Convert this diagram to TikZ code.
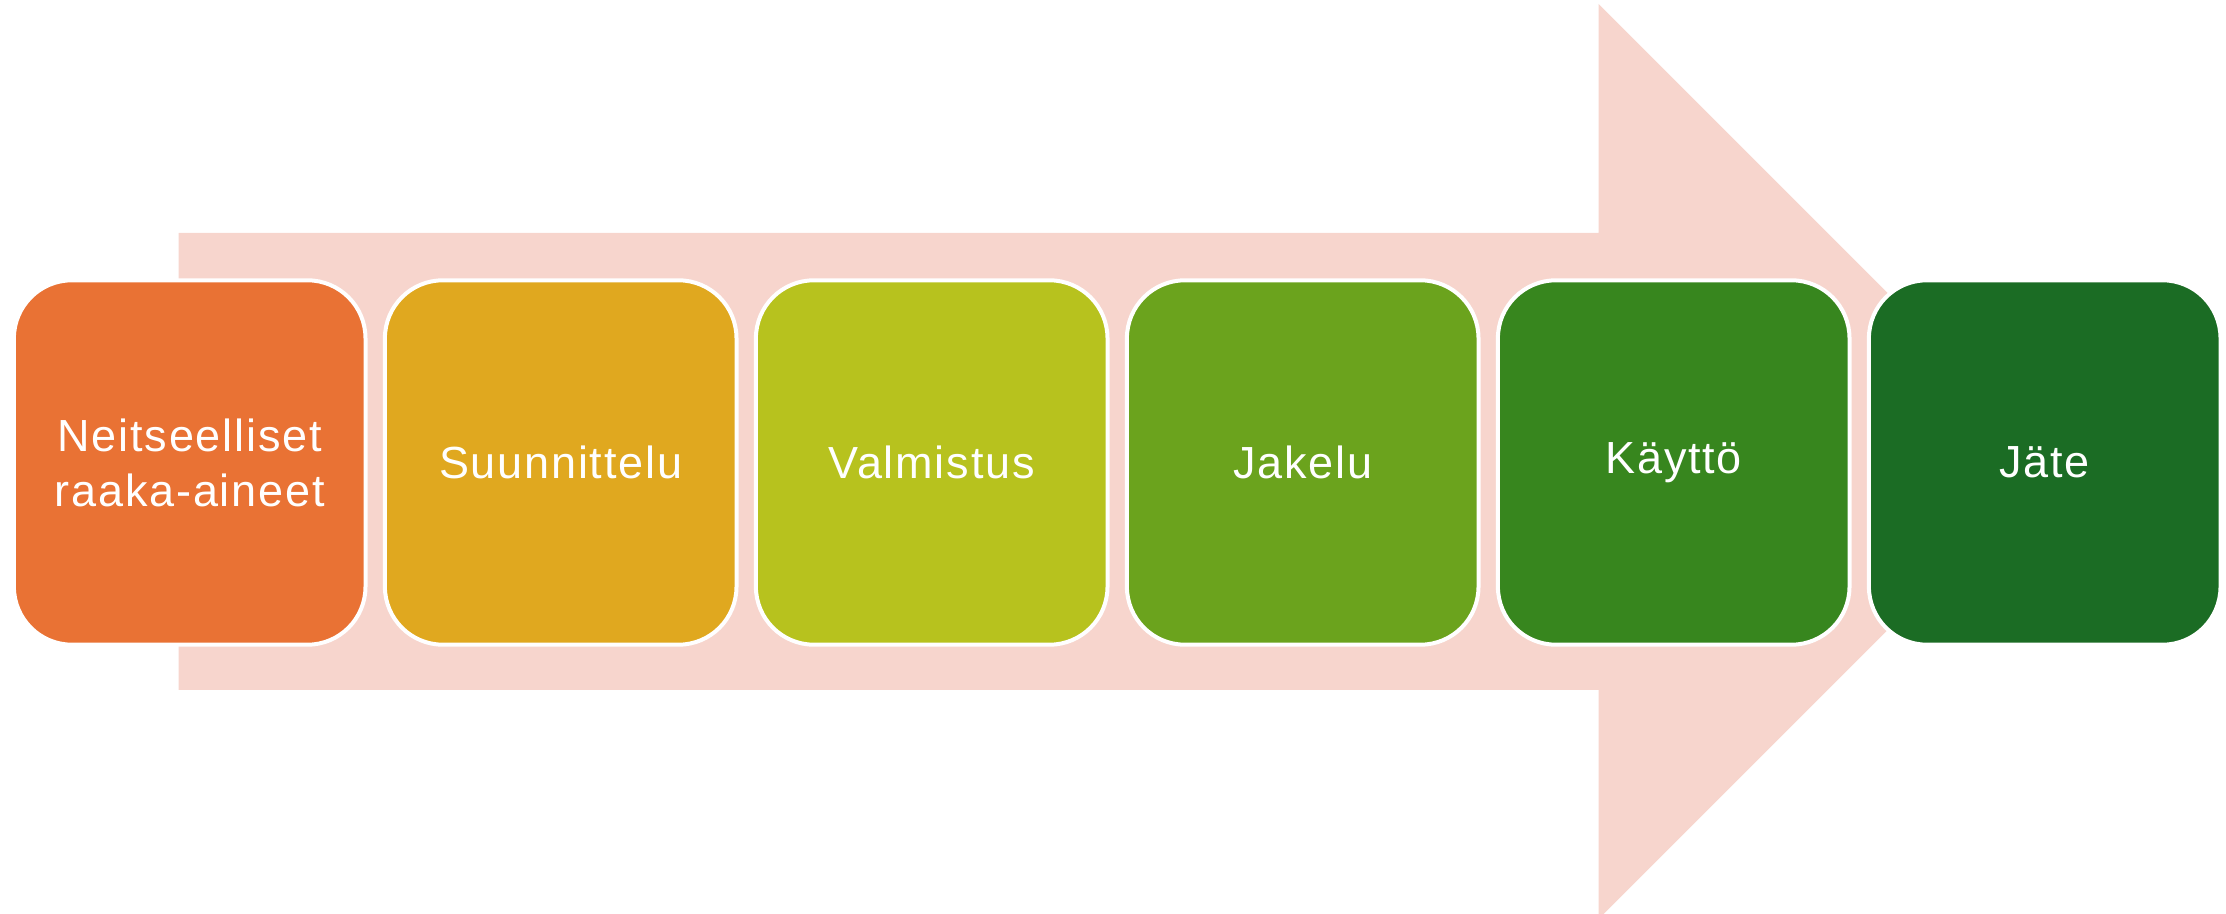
\documentclass[tikz,border=0pt]{standalone}
\usepackage{fontspec}
\setmainfont[LetterSpace=4]{Liberation Sans}
\definecolor{arrowpink}{HTML}{F7D5CD}
\definecolor{cA}{HTML}{E97234}
\definecolor{cB}{HTML}{E0A81F}
\definecolor{cC}{HTML}{B7C21E}
\definecolor{cD}{HTML}{6BA31D}
\definecolor{cE}{HTML}{37861E}
\definecolor{cF}{HTML}{1B6C24}
\tikzset{
  stagebox/.style={rectangle, rounded corners=58pt, minimum width=351.6pt,
    minimum height=364.4pt, inner sep=0pt, draw=white, line width=4pt,
    text=white, align=center, font=\fontsize{45}{55}\selectfont}
}
\begin{document}
\begin{tikzpicture}[x=1pt,y=1pt]
\useasboundingbox (0,0) rectangle (2226,913);
\begin{scope}
\clip (0,0) rectangle (2226,913);
\fill[arrowpink] (178.7,680) -- (1598.7,680) -- (1598.7,909) -- (2056,451.5)
  -- (1598.7,-6) -- (1598.7,223) -- (178.7,223) -- cycle;
\end{scope}
\node[stagebox, fill=cA] (n1) at (189.7,450.5) {Neitseelliset\\raaka-aineet};
\node[stagebox, fill=cB] (n2) at (560.7,450.5) {Suunnittelu};
\node[stagebox, fill=cC] (n3) at (931.7,450.5) {Valmistus};
\node[stagebox, fill=cD] (n4) at (1302.7,450.5) {Jakelu};
\node[stagebox, fill=cE] (n5) at (1673.7,450.5) {Käyttö};
\node[stagebox, fill=cF] (n6) at (2044.7,450.5) {Jäte};
\end{tikzpicture}
\end{document}
